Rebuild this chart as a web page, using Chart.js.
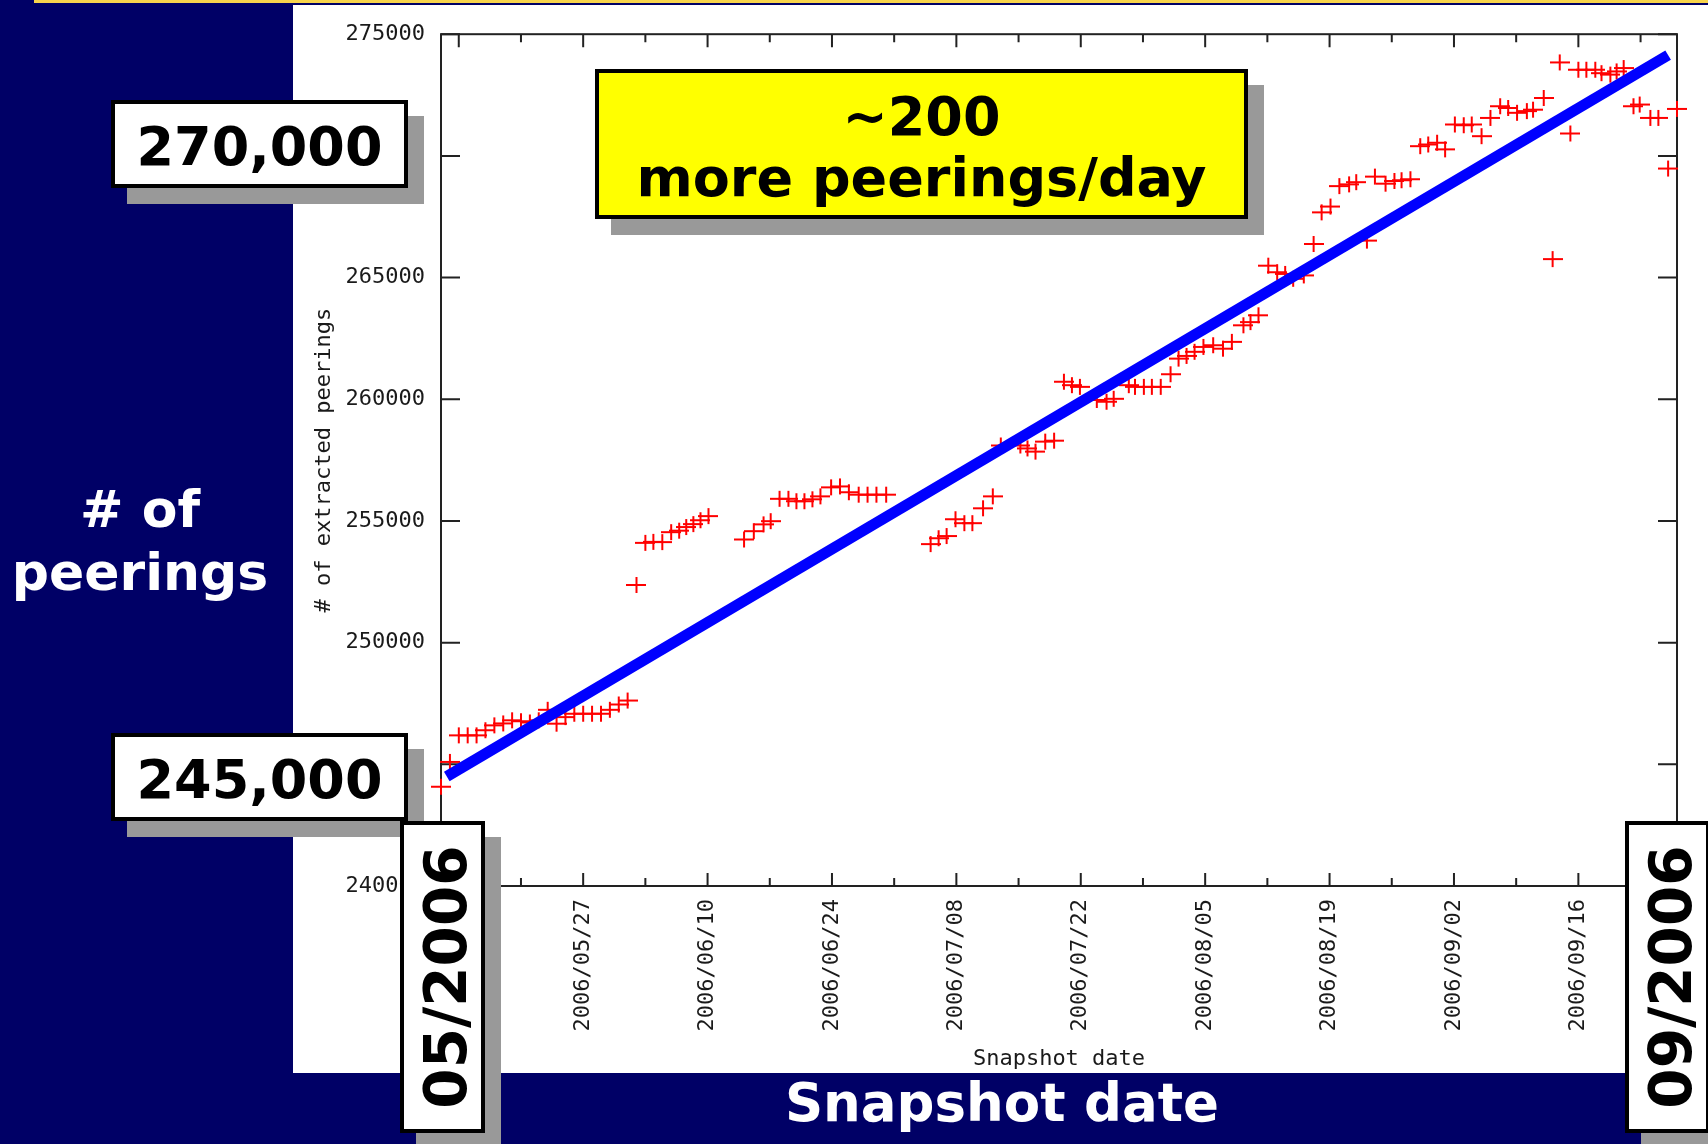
<!DOCTYPE html>
<html>
<head>
<meta charset="utf-8">
<title>peerings per snapshot</title>
<script src="https://cdn.jsdelivr.net/npm/chart.js@4.4.1/dist/chart.umd.min.js"></script>
<style>
  body {
    margin: 0;
    width: 1708px;
    height: 1144px;
    background: #000066;
    position: relative;
    overflow: hidden;
    font-family: "DejaVu Sans", Verdana, sans-serif;
    font-weight: bold;
  }
  .topline { position: absolute; left: 34px; top: 0; width: 1674px; height: 3px; background: #f7d44c; }
  #panel { position: absolute; left: 293px; top: 5px; width: 1415px; height: 1068px; background: #fff; }
  #peerings { position: absolute; left: 293px; top: 5px; }
  .box {
    position: absolute;
    box-sizing: border-box;
    border: 4px solid #000;
    background: #fff;
    box-shadow: 16px 16px 0 #999;
    color: #000;
    text-align: center;
    white-space: nowrap;
  }
  .val { left: 111px; width: 297px; height: 88px; font-size: 54px; line-height: 86px; }
  .date { top: 821px; width: 85px; height: 312px; }
  .date span {
    position: absolute;
    left: calc(50% + 3px);
    top: 50%;
    font-size: 58px;
    line-height: 58px;
    transform: translate(-50%, -50%) rotate(-90deg);
  }
  #rate { left: 595px; top: 69px; width: 653px; height: 150px; background: #ffff00;
          font-size: 54px; line-height: 61px; padding-top: 13px; }
  .white { position: absolute; color: #fff; text-align: center; white-space: nowrap; }
</style>
</head>
<body>
<div class="topline"></div>
<div id="panel"></div>
<canvas id="peerings" width="1415" height="1068"></canvas>

<div class="white" style="left:0; top:478px; width:280px; font-size:52px; line-height:63px;"># of<br>peerings</div>
<div class="white" style="left:602px; top:1073px; width:800px; font-size:53px; line-height:60px;">Snapshot date</div>

<div class="box val" style="top:100px;">270,000</div>
<div class="box val" style="top:733px;">245,000</div>
<div class="box" id="rate">~200<br>more peerings/day</div>
<div class="box date" style="left:400px;"><span>05/2006</span></div>
<div class="box date" style="left:1625px;"><span>09/2006</span></div>

<script>
// days counted from 2006/05/01
const snapshotDay = [
  10, 11, 12, 13, 14, 15, 16, 17, 18, 19, 20, 21, 22, 23, 24, 25, 26, 27, 28, 29, 30, 31,
  32.0, 33.0, 33.9, 34.9, 35.9, 36.8, 37.6, 38.4, 39.2, 40.1,
  44.1, 45.2, 46.3, 47.1,
  48.1, 49.1, 50.0, 50.9, 51.8, 52.7, 53.9, 54.9, 55.9, 57.0, 58.0, 59.0, 60.1,
  65.1, 66.0, 66.9, 67.9, 68.9, 69.8, 71.0, 72.1,
  73.0, 75.2, 76.0, 76.9, 78.0, 79.0,
  80.1, 81.0, 81.9, 83.8, 84.9, 85.7, 87.4, 88.1, 89.1, 90.0, 91.0, 92.1, 93.0, 93.9,
  94.8, 95.8, 96.9, 98.0, 99.0, 100.3, 101.1, 102.0,
  103.1, 104.1, 105.0, 105.9, 107.1, 108.2, 109.1, 110.1, 111.1, 112.2, 113.0, 114.2,
  115.1, 116.3, 117.3, 118.1, 119.1, 120.2, 121.1, 122.1, 123.0, 124.1, 125.1, 126.0,
  127.1, 128.1, 129.2, 130.1, 131.1, 132.2, 132.9, 134.1, 135.1, 135.9, 137.1, 138.0,
  138.9, 139.9, 140.6, 141.6, 142.3, 143.1, 144.2, 144.9, 146.1, 147.0, 148.1, 149.1
];
const peerings = [
  244080, 245100, 246190, 246190, 246190, 246400, 246600, 246680, 246810, 246770, 246720,
  246810, 247240, 246670, 246940, 247080, 247080, 247080, 247080, 247240, 247460, 247620,
  252370, 254100, 254140, 254130, 254540, 254600, 254750, 254870, 255030, 255200,
  254240, 254580, 254860, 254990,
  255910, 255910, 255810, 255810, 255890, 256010, 256380, 256420, 256180, 256080, 256080, 256080, 256080,
  254050, 254290, 254380, 255070, 254910, 254910, 255520, 256010,
  258100, 258100, 257980, 257850, 258260, 258300,
  260720, 260580, 260510, 259970, 259900, 260020, 260580, 260510, 260510, 260510, 260510, 261030, 261670, 261780,
  261950, 262150, 262220, 262080, 262360, 263040, 263170, 263450,
  265490, 265220, 265150, 264950, 265090, 266380, 267680, 267920, 268760, 268830, 268920, 266520,
  269150, 268860, 268970, 269000, 269040, 270400, 270470, 270540, 270270, 271290, 271260, 271290,
  270810, 271560, 272040, 271970, 271770, 271840, 271900, 272380, 265760, 273840, 270920, 273540,
  273540, 273540, 273400, 273340, 273470, 273610, 272040, 272110, 271560, 271560, 269480, 271930
];

// fitted trend, ~200 per day
const trendDay = [10.65, 148.1];
const trendValue = [244500, 274140];

const majorTickDays = [12, 26, 40, 54, 68, 82, 96, 110, 124, 138];
const minorTickDays = [19, 33, 47, 61, 75, 89, 103, 117, 131, 145];
const tickLabels = ["2006/05/13", "2006/05/27", "2006/06/10", "2006/06/24", "2006/07/08",
                    "2006/07/22", "2006/08/05", "2006/08/19", "2006/09/02", "2006/09/16"];
const yTicks = [240000, 245000, 250000, 255000, 260000, 265000, 270000, 275000];

// gnuplot style "+" marker, a bit wider than tall
const plus = document.createElement("canvas");
plus.width = 20;
plus.height = 18;
const pc = plus.getContext("2d");
pc.strokeStyle = "#ff0000";
pc.lineWidth = 2;
pc.beginPath();
pc.moveTo(0, 9); pc.lineTo(20, 9);
pc.moveTo(10, 1); pc.lineTo(10, 17);
pc.stroke();

// box around the plot with inward ticks on all four sides
const frame = {
  id: "frame",
  beforeDatasetsDraw(chart) {
    const { ctx, chartArea: a, scales: { x, y } } = chart;
    ctx.save();
    ctx.strokeStyle = "#222";
    ctx.lineWidth = 2;
    ctx.strokeRect(a.left, a.top, a.right - a.left, a.bottom - a.top);
    ctx.beginPath();
    x.ticks.forEach(function (t) {
      const px = x.getPixelForValue(t.value);
      const len = majorTickDays.includes(t.value) ? 13 : 8;
      ctx.moveTo(px, a.bottom); ctx.lineTo(px, a.bottom - len);
      ctx.moveTo(px, a.top); ctx.lineTo(px, a.top + len);
    });
    y.ticks.forEach(function (t) {
      const py = y.getPixelForValue(t.value);
      ctx.moveTo(a.left, py); ctx.lineTo(a.left + 19, py);
      ctx.moveTo(a.right, py); ctx.lineTo(a.right - 19, py);
    });
    ctx.stroke();
    ctx.restore();
  }
};

const monoFont = { family: "'DejaVu Sans Mono', monospace", size: 22 };
Chart.defaults.font.family = monoFont.family;

const ctx = document.getElementById("peerings").getContext("2d");
const chart = new Chart(ctx, {
  type: "scatter",
  data: {
    datasets: [
      {
        type: "line",
        label: "trend",
        data: trendDay.map((d, i) => ({ x: d, y: trendValue[i] })),
        borderColor: "#0000ff",
        borderWidth: 11,
        borderCapStyle: "butt",
        pointRadius: 0,
        order: 0,
      },
      {
        label: "# of extracted peerings",
        data: snapshotDay.map((d, i) => ({ x: d, y: peerings[i] })),
        pointStyle: plus,
        clip: false,
        order: 1,
      }
    ]
  },
  options: {
    responsive: false,
    animation: false,
    layout: { padding: { top: 26, right: 31, left: 0, bottom: 0 } },
    plugins: {
      legend: { display: false },
      tooltip: { enabled: false },
    },
    scales: {
      x: {
        type: "linear",
        min: 10,
        max: 149.1,
        grid: { display: false, drawTicks: false },
        border: { display: false },
        afterBuildTicks: function (s) {
          s.ticks = majorTickDays.concat(minorTickDays).map(v => ({ value: v }));
        },
        afterFit: function (s) { s.height = 187; },
        ticks: {
          autoSkip: false,
          minRotation: 90,
          maxRotation: 90,
          padding: 13,
          color: "#1a1a1a",
          font: monoFont,
          callback: function (value) {
            const i = majorTickDays.indexOf(value);
            return i >= 0 ? tickLabels[i] : "";
          },
        },
        title: {
          display: true,
          text: "Snapshot date",
          color: "#1a1a1a",
          font: monoFont,
          padding: { top: 0, bottom: 1 },
        },
      },
      y: {
        min: 240000,
        max: 275000,
        grid: { display: false, drawTicks: false },
        border: { display: false },
        afterBuildTicks: function (s) {
          s.ticks = yTicks.map(v => ({ value: v }));
        },
        afterFit: function (s) { s.width = 148; },
        ticks: {
          padding: 16,
          color: "#1a1a1a",
          font: monoFont,
          callback: v => String(v),
        },
        title: {
          display: true,
          text: "# of extracted peerings",
          color: "#1a1a1a",
          font: monoFont,
          padding: { top: 18, bottom: 0 },
        },
      },
    },
  },
  plugins: [frame],
});
</script>
</body>
</html>
